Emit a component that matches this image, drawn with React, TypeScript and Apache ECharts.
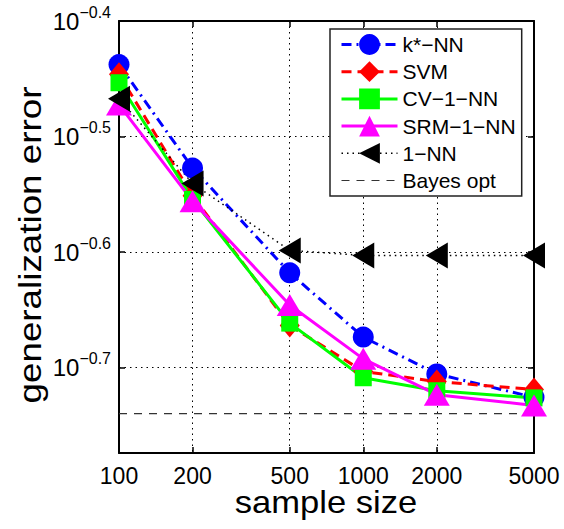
import React, { useEffect, useRef } from "react";
import * as echarts from "echarts";

// ---- data ----
const sampleSizes = [100, 200, 500, 1000, 2000, 5000];
const kStarNN = [0.365, 0.297, 0.241, 0.212, 0.197, 0.188];
const svm = [0.358, 0.281, 0.217, 0.198, 0.194, 0.191];
const cv1NN = [0.352, 0.279, 0.218, 0.1955, 0.1905, 0.1878];
const srm1NN = [0.337, 0.278, 0.226, 0.203, 0.189, 0.185];
const oneNN = [0.341, 0.288, 0.252, 0.2495, 0.2495, 0.2495];
const bayesOpt = [0.182, 0.182];
const bayesX = [100, 5000];

const seriesNames = ["k*−NN", "SVM", "CV−1−NN", "SRM−1−NN", "1−NN", "Bayes opt"];
const xTickLabels = [100, 200, 500, 1000, 2000, 5000];
const yTickExponents = [-0.7, -0.6, -0.5, -0.4];
const xRange = [100, 5000];
const yExpRange = [-0.774, -0.4];

const lg = (v: number) => Math.log10(v);

export default function App() {
  const ref = useRef<HTMLDivElement>(null);

  useEffect(() => {
    const chart = echarts.init(ref.current!, null, { renderer: "svg" });
    const font = "'Liberation Sans', Arial, Helvetica, sans-serif";
    const pts = (xs: number[], vals: number[]) => xs.map((n, i) => [lg(n), lg(vals[i])]);
    const xTicks = xTickLabels.map(lg);

    const tick = { show: true, inside: true, length: 6, lineStyle: { color: "#000", width: 1.5 } };
    const axisLine = { show: true, lineStyle: { color: "#000", width: 2 } };
    const grid = { show: true, lineStyle: { color: "#000", width: 1, type: [1.5, 4] as any } };

    const base = (s: any) => ({
      type: "line",
      silent: true,
      emphasis: { disabled: true },
      z: 2,
      ...s,
    });

    const option: any = {
      animation: false,
      backgroundColor: "#fff",
      grid: { left: 119, top: 21, width: 415, height: 432, containLabel: false },
      xAxis: [
        {
          type: "value",
          min: lg(xRange[0]),
          max: lg(xRange[1]),
          axisLine,
          axisTick: { ...tick, customValues: xTicks },
          splitLine: grid,
          axisLabel: {
            customValues: xTicks,
            margin: 11,
            fontSize: 23,
            fontFamily: font,
            color: "#000",
            formatter: (v: number) => String(Math.round(Math.pow(10, v))),
          },
        },
        {
          type: "value",
          position: "top",
          min: lg(xRange[0]),
          max: lg(xRange[1]),
          axisLine,
          axisTick: { ...tick, customValues: xTicks },
          splitLine: { show: false },
          axisLabel: { show: false },
        },
      ],
      yAxis: [
        {
          type: "value",
          min: yExpRange[0],
          max: yExpRange[1],
          axisLine,
          axisTick: { ...tick, customValues: yTickExponents },
          splitLine: grid,
          axisLabel: {
            customValues: yTickExponents,
            margin: 8,
            formatter: (v: number) => `{b|10}{s|−${Math.abs(v).toFixed(1)}}`,
            rich: {
              b: { fontSize: 24, fontFamily: font, color: "#000", lineHeight: 34, verticalAlign: "middle" },
              s: { fontSize: 16, fontFamily: font, color: "#000", lineHeight: 14, verticalAlign: "top" },
            },
          },
        },
        {
          type: "value",
          position: "right",
          min: yExpRange[0],
          max: yExpRange[1],
          axisLine,
          axisTick: { ...tick, customValues: yTickExponents },
          splitLine: { show: false },
          axisLabel: { show: false },
        },
      ],
      legend: {
        orient: "vertical",
        left: 330,
        top: 29,
        data: seriesNames,
        itemWidth: 56,
        itemHeight: 26,
        itemGap: 6.2,
        padding: [5, 6, 5, 10],
        borderColor: "#222",
        borderWidth: 1.5,
        borderRadius: 0,
        backgroundColor: "#fff",
        selectedMode: false,
        lineStyle: { width: "inherit" },
        textStyle: { fontFamily: font, fontSize: 21, color: "#000" },
      },
      series: [
        base({
          name: seriesNames[0],
          data: pts(sampleSizes, kStarNN),
          symbol: "circle",
          symbolSize: 21,
          lineStyle: { color: "#0000ff", width: 3, type: [10, 5, 2, 5] },
          itemStyle: { color: "#0000ff" },
        }),
        base({
          name: seriesNames[1],
          data: pts(sampleSizes, svm),
          symbol: "diamond",
          symbolSize: [20, 24],
          lineStyle: { color: "#ff0000", width: 3, type: [10, 6] },
          itemStyle: { color: "#ff0000" },
        }),
        base({
          name: seriesNames[2],
          data: pts(sampleSizes, cv1NN),
          symbol: "rect",
          symbolSize: 17,
          lineStyle: { color: "#00ff00", width: 3, type: "solid" },
          itemStyle: { color: "#00ff00" },
        }),
        base({
          name: seriesNames[3],
          data: pts(sampleSizes, srm1NN),
          symbol: "triangle",
          symbolSize: [26, 22],
          lineStyle: { color: "#ff00ff", width: 3, type: "solid" },
          itemStyle: { color: "#ff00ff" },
        }),
        base({
          name: seriesNames[4],
          data: pts(sampleSizes, oneNN),
          symbol: "triangle",
          symbolRotate: 90,
          symbolSize: [26, 22],
          lineStyle: { color: "#000", width: 1.5, type: [1.5, 4] },
          itemStyle: { color: "#000" },
        }),
        base({
          name: seriesNames[5],
          data: pts(bayesX, bayesOpt),
          symbol: "circle",
          showSymbol: false,
          z: 1,
          lineStyle: { color: "#333", width: 1.2, type: [8, 7] },
          itemStyle: { color: "#333", opacity: 0 },
        }),
      ],
      graphic: [
        {
          type: "text",
          x: 326,
          y: 502,
          scaleX: 1.08,
          silent: true,
          style: { text: "sample size", fontSize: 32, fontFamily: font, fill: "#000", align: "center", verticalAlign: "middle" },
        },
        {
          type: "text",
          x: 30,
          y: 245,
          rotation: Math.PI / 2,
          scaleX: 1.15,
          silent: true,
          style: { text: "generalization error", fontSize: 32, fontFamily: font, fill: "#000", align: "center", verticalAlign: "middle" },
        },
      ],
    };

    chart.setOption(option);
    return () => chart.dispose();
  }, []);

  return (
    <div
      ref={ref}
      style={{ position: "fixed", left: 0, top: 0, width: 564, height: 529, background: "#fff" }}
    />
  );
}
